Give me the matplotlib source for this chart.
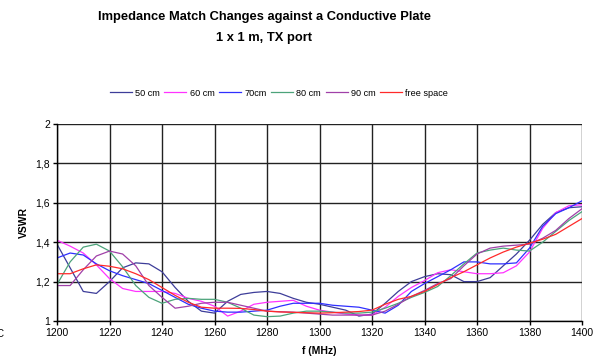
import matplotlib
matplotlib.use('Agg')
import matplotlib.pyplot as plt
import numpy as np

plt.rcParams['font.family'] = ['Liberation Sans', 'DejaVu Sans']

# frequency sweep (MHz), 5 MHz steps
freq = np.arange(1200, 1401, 5)

vswr_50 = [1.39, 1.27, 1.15, 1.14, 1.20, 1.27, 1.295, 1.29, 1.25, 1.17,
           1.10, 1.05, 1.04, 1.10, 1.135, 1.145, 1.15, 1.14, 1.115, 1.095,
           1.085, 1.07, 1.055, 1.025, 1.035, 1.09, 1.15, 1.20, 1.225, 1.24,
           1.235, 1.20, 1.20, 1.22, 1.28, 1.34, 1.41, 1.49, 1.55, 1.575, 1.58]
vswr_60 = [1.41, 1.38, 1.345, 1.285, 1.215, 1.165, 1.15, 1.15, 1.15, 1.14,
           1.115, 1.10, 1.075, 1.025, 1.05, 1.085, 1.095, 1.10, 1.105, 1.075,
           1.055, 1.045, 1.035, 1.03, 1.03, 1.07, 1.125, 1.17, 1.205, 1.245,
           1.26, 1.25, 1.24, 1.24, 1.245, 1.28, 1.35, 1.47, 1.55, 1.585, 1.59]
vswr_70 = [1.32, 1.345, 1.335, 1.29, 1.255, 1.23, 1.21, 1.19, 1.155, 1.12,
           1.085, 1.065, 1.05, 1.045, 1.045, 1.05, 1.055, 1.075, 1.09, 1.09,
           1.09, 1.08, 1.075, 1.07, 1.055, 1.04, 1.08, 1.15, 1.19, 1.225,
           1.26, 1.30, 1.30, 1.29, 1.29, 1.295, 1.37, 1.48, 1.545, 1.575, 1.61]
vswr_80 = [1.185, 1.30, 1.375, 1.39, 1.355, 1.275, 1.18, 1.12, 1.09, 1.11,
           1.115, 1.11, 1.11, 1.095, 1.065, 1.03, 1.022, 1.025, 1.04, 1.05,
           1.05, 1.045, 1.04, 1.04, 1.045, 1.065, 1.09, 1.12, 1.145, 1.175,
           1.23, 1.29, 1.345, 1.36, 1.37, 1.36, 1.355, 1.40, 1.455, 1.51, 1.555]
vswr_90 = [1.18, 1.18, 1.26, 1.33, 1.355, 1.34, 1.28, 1.18, 1.12, 1.065,
           1.075, 1.09, 1.095, 1.095, 1.08, 1.065, 1.05, 1.047, 1.045, 1.04,
           1.035, 1.03, 1.03, 1.03, 1.03, 1.05, 1.085, 1.125, 1.155, 1.19,
           1.215, 1.28, 1.34, 1.37, 1.38, 1.385, 1.39, 1.42, 1.46, 1.52, 1.57]
vswr_free = [1.24, 1.24, 1.265, 1.285, 1.278, 1.265, 1.24, 1.21, 1.17, 1.13,
             1.095, 1.07, 1.065, 1.065, 1.064, 1.058, 1.05, 1.046, 1.044, 1.042,
             1.04, 1.042, 1.045, 1.048, 1.055, 1.085, 1.11, 1.125, 1.15, 1.185,
             1.22, 1.25, 1.285, 1.32, 1.35, 1.375, 1.395, 1.415, 1.44, 1.48, 1.52]

labels = ['50 cm', '60 cm', '70cm', '80 cm', '90 cm', 'free space']
series = [vswr_50, vswr_60, vswr_70, vswr_80, vswr_90, vswr_free]
colors = ['#3d3d99', '#ff33ff', '#2f2fff', '#4ca37a', '#a040a8', '#ff2a2a']

fig = plt.figure(figsize=(5.98, 3.63), dpi=100)
ax = fig.add_axes([57/598, 1 - 321/363, 525/598, 197/363])

for y, c, lab in zip(series, colors, labels):
    ax.plot(freq, y, color=c, linewidth=0.9, label=lab)

ax.set_xlim(1200, 1400)
ax.set_ylim(1, 2)
ax.set_xticks(np.arange(1200, 1401, 20))
ax.set_yticks([1, 1.2, 1.4, 1.6, 1.8, 2])
ax.set_yticklabels(['1', '1,2', '1,4', '1,6', '1,8', '2'])
ax.grid(True, color='#222222', linewidth=1.0)
ax.set_axisbelow(True)

for side in ['top', 'right']:
    ax.spines[side].set_visible(False)
for side in ['left', 'bottom']:
    ax.spines[side].set_color('black')
    ax.spines[side].set_linewidth(1.0)

ax.tick_params(axis='both', which='major', length=3, width=1, direction='out',
               labelsize=7.5, colors='black', pad=2)

ax.set_xlabel('f (MHz)', fontsize=7.5, fontweight='bold', labelpad=6)
ax.set_ylabel('VSWR', fontsize=7.5, fontweight='bold', labelpad=5)

fig.text(264/598, 1 - 17/363, 'Impedance Match Changes against a Conductive Plate',
         ha='center', va='center', fontsize=9.3, fontweight='bold')
fig.text(264/598, 1 - 38/363, '1 x 1 m, TX port',
         ha='center', va='center', fontsize=9.3, fontweight='bold')

fig.legend(loc='center', bbox_to_anchor=(279/598, 1 - 93/363), ncol=6,
           frameon=False, fontsize=6.6, handlelength=2.4, handletextpad=0.35,
           columnspacing=0.5, borderpad=0)

# stray clipped label on the left border
fig.text(-0.006, 1 - 334/363, 'C', fontsize=7, va='center', ha='left')

fig.savefig('out.png', dpi=100)
